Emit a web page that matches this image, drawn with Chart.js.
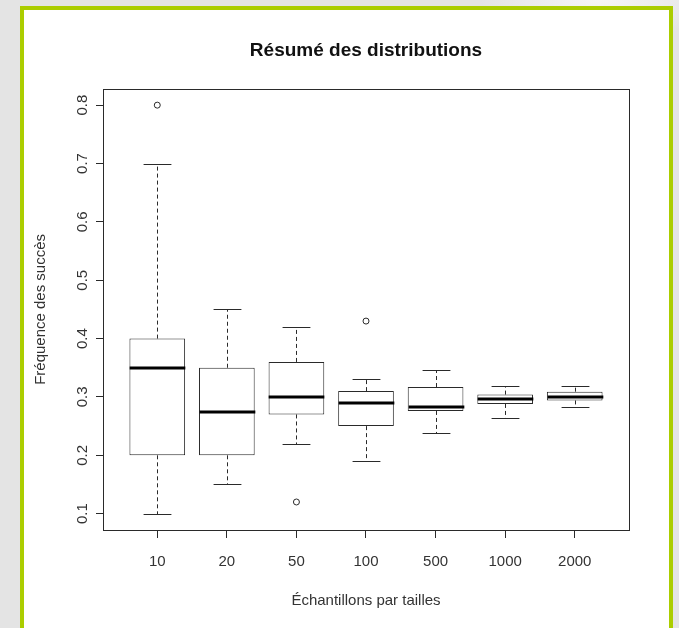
<!DOCTYPE html>
<html lang="fr">
<head>
    <meta charset="UTF-8">
    <title>Résumé des distributions</title>
    <script src="https://cdn.jsdelivr.net/npm/chart.js"></script>
    <style>
        body {
            margin: 0; width: 679px; height: 628px; overflow: hidden;
            background: radial-gradient(ellipse 120px 40px at 600px 0px, #f6f6f6, #e4e4e4);
        }
        .frame {
            position: absolute; left: 20px; top: 6px;
            width: 645px; height: 640px;
            border: 4px solid #abcd00;
            background: #fff;
        }
        .chart-box { position: absolute; left: 0; top: 0; width: 645px; height: 618px; }
    </style>
</head>
<body>
    <div class="frame">
        <div class="chart-box"><canvas id="boxChart"></canvas></div>
    </div>

    <script>
        // data
        const categories = ['10', '20', '50', '100', '500', '1000', '2000'];
        const lowerWhisker = [0.10, 0.15, 0.22, 0.19, 0.238, 0.264, 0.283];
        const q1 = [0.20, 0.20, 0.27, 0.25, 0.276, 0.288, 0.294];
        const medians = [0.35, 0.275, 0.30, 0.29, 0.283, 0.297, 0.300];
        const q3 = [0.40, 0.35, 0.36, 0.31, 0.317, 0.304, 0.309];
        const upperWhisker = [0.70, 0.45, 0.42, 0.33, 0.347, 0.318, 0.319];
        const outliers = [[0.80], [], [0.12], [0.43], [], [], []];
        const yTicks = [0.1, 0.2, 0.3, 0.4, 0.5, 0.6, 0.7, 0.8];

        const ink = '#2a2a2a';
        Chart.defaults.font.family = '"Liberation Sans", Arial, sans-serif';

        const boxData = categories.map((c, i) => ({ x: i + 1, y: [q1[i], q3[i]] }));
        const outlierData = [];
        outliers.forEach((list, i) => list.forEach(v => outlierData.push({ x: i + 1, y: v })));

        // whiskers, medians, frame and rotated y labels (R style)
        const boxplotExtras = {
            id: 'boxplotExtras',
            afterDatasetsDraw(chart) {
                const { ctx, chartArea, scales: { x, y } } = chart;
                const bars = chart.getDatasetMeta(0).data;
                ctx.save();
                ctx.strokeStyle = ink;
                ctx.lineWidth = 1;
                categories.forEach((c, i) => {
                    const cx = Math.round(x.getPixelForValue(i + 1)) + 0.5;
                    const half = bars[i].width / 2;
                    const capHalf = half / 2;
                    const yUp = Math.round(y.getPixelForValue(upperWhisker[i])) + 0.5;
                    const yLo = Math.round(y.getPixelForValue(lowerWhisker[i])) + 0.5;
                    const yQ3 = y.getPixelForValue(q3[i]);
                    const yQ1 = y.getPixelForValue(q1[i]);

                    ctx.setLineDash([4, 3]);
                    ctx.beginPath();
                    ctx.moveTo(cx, yQ3); ctx.lineTo(cx, yUp);
                    ctx.moveTo(cx, yQ1); ctx.lineTo(cx, yLo);
                    ctx.stroke();

                    ctx.setLineDash([]);
                    ctx.beginPath();
                    ctx.moveTo(cx - capHalf, yUp); ctx.lineTo(cx + capHalf, yUp);
                    ctx.moveTo(cx - capHalf, yLo); ctx.lineTo(cx + capHalf, yLo);
                    ctx.stroke();

                    ctx.save();
                    ctx.strokeStyle = '#000';
                    ctx.lineWidth = 3;
                    const ym = Math.round(y.getPixelForValue(medians[i]));
                    ctx.beginPath();
                    ctx.moveTo(cx - half, ym); ctx.lineTo(cx + half, ym);
                    ctx.stroke();
                    ctx.restore();
                });

                // plot frame
                ctx.strokeStyle = ink;
                ctx.strokeRect(Math.round(chartArea.left) + 0.5, Math.round(chartArea.top) + 0.5,
                    Math.round(chartArea.width), Math.round(chartArea.height));

                // y tick labels, rotated like R's las = 0
                ctx.fillStyle = '#333';
                ctx.font = '15px "Liberation Sans", Arial, sans-serif';
                ctx.textAlign = 'center';
                ctx.textBaseline = 'middle';
                yTicks.forEach(v => {
                    ctx.save();
                    ctx.translate(y.left + 59, y.getPixelForValue(v));
                    ctx.rotate(-Math.PI / 2);
                    ctx.fillText(v.toFixed(1), 0, 0);
                    ctx.restore();
                });
                ctx.restore();
            }
        };

        new Chart(document.getElementById('boxChart'), {
            type: 'bar',
            data: {
                datasets: [
                    {
                        data: boxData,
                        backgroundColor: '#fff',
                        borderColor: ink,
                        borderWidth: 1,
                        borderSkipped: false,
                        categoryPercentage: 1,
                        barPercentage: 0.8
                    },
                    {
                        type: 'scatter',
                        data: outlierData,
                        pointRadius: 3,
                        pointStyle: 'circle',
                        backgroundColor: '#fff',
                        borderColor: ink,
                        borderWidth: 1
                    }
                ]
            },
            options: {
                responsive: true,
                maintainAspectRatio: false,
                animation: false,
                layout: { padding: { left: 0, right: 40, top: 0, bottom: 0 } },
                plugins: {
                    legend: { display: false },
                    tooltip: { enabled: false },
                    title: {
                        display: true,
                        fullSize: false,
                        text: 'Résumé des distributions',
                        color: '#111',
                        font: { size: 19, weight: 'bold' },
                        padding: { top: 29, bottom: 27 }
                    }
                },
                scales: {
                    x: {
                        type: 'linear',
                        offset: false,
                        min: 0.22,
                        max: 7.78,
                        afterBuildTicks: s => { s.ticks = categories.map((c, i) => ({ value: i + 1 })); },
                        afterFit: s => { s.height = 98; },
                        ticks: {
                            callback: v => categories[v - 1],
                            color: '#333',
                            font: { size: 15 },
                            padding: 15,
                            maxRotation: 0
                        },
                        grid: { offset: false, drawOnChartArea: false, tickLength: 8, tickColor: ink },
                        border: { display: false },
                        title: {
                            display: true,
                            text: 'Échantillons par tailles',
                            color: '#333',
                            font: { size: 15 },
                            padding: { bottom: 18 }
                        }
                    },
                    y: {
                        min: 0.072,
                        max: 0.828,
                        afterBuildTicks: s => { s.ticks = yTicks.map(v => ({ value: v })); },
                        afterFit: s => { s.width = 79; },
                        ticks: { display: false },
                        grid: { drawOnChartArea: false, tickLength: 7, tickColor: ink },
                        border: { display: false },
                        title: {
                            display: true,
                            text: 'Fréquence des succès',
                            color: '#333',
                            font: { size: 15 },
                            padding: { top: 8 }
                        }
                    }
                }
            },
            plugins: [boxplotExtras]
        });
    </script>
</body>
</html>
